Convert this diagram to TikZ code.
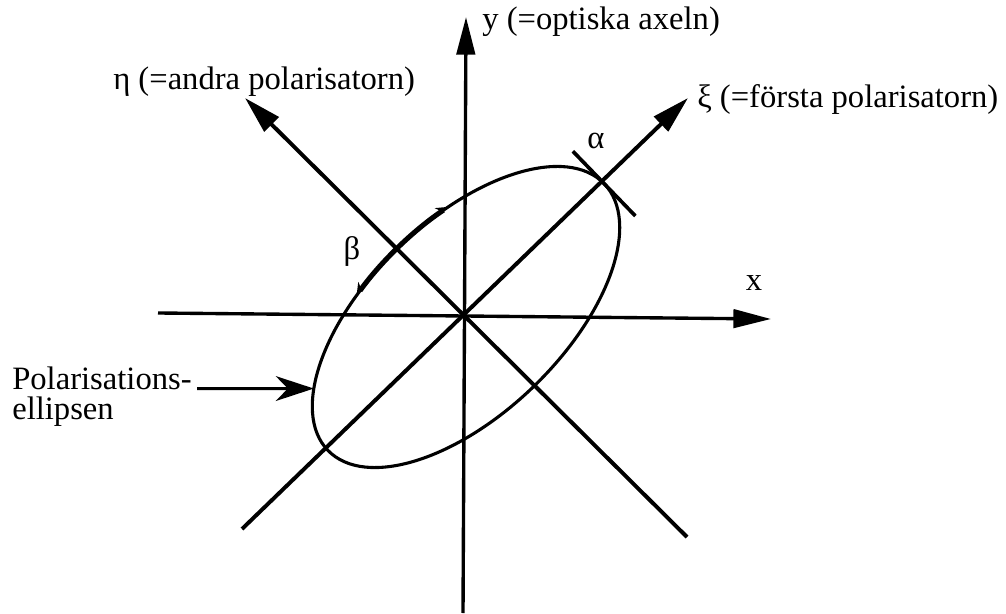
\documentclass[tikz,border=0pt]{standalone}
\usepackage{fontspec}
\setmainfont{Liberation Serif}
\usetikzlibrary{arrows.meta, positioning}

\begin{document}
\begin{tikzpicture}[
  font=\fontsize{23.2}{21.5}\selectfont,
  axis/.style={line width=2.4pt, -{Triangle[length=0.94cm, width=0.46cm]}},
  polar/.style={line width=2.8pt, -{Triangle[length=0.94cm, width=0.5cm]}},
  curve/.style={line width=2.2pt},
  lbl/.style={inner sep=0pt},
  pointer/.style={line width=2.2pt, -{Stealth[length=0.95cm, width=0.62cm, inset=0.3cm]}}
]
\useasboundingbox (0,0) rectangle (25.15,15.325);
\coordinate (O) at (11.65,7.40);
\coordinate (xstart) at (3.95,7.50);
\coordinate (xend) at (19.275,7.35);
\coordinate (ystart) at (11.575,0);
\coordinate (yend) at (11.65,14.9);
\coordinate (xistart) at (6.05,2.10);
\coordinate (xiend) at (17.2,12.875);
\coordinate (etastart) at (17.175,1.90);
\coordinate (etaend) at (6.125,12.875);
\draw[axis] (xstart) -- (xend);
\draw[axis] (ystart) -- (yend);
\draw[polar] (xistart) -- (xiend);
\draw[polar] (etastart) -- (etaend);
\begin{scope}[shift={(O)}, rotate=44]
  \draw[curve] (0,0) ellipse [x radius=4.8, y radius=2.425];
  \draw[line width=3.6pt, {Stealth[harpoon, length=0.3cm, width=0.32cm]}-{Stealth[harpoon, swap, length=0.3cm, width=0.32cm]}]
    (70:4.8 and 2.425) arc[start angle=70, end angle=110, x radius=4.8, y radius=2.425];
  \coordinate (tickA) at (4.8,1.125);
  \coordinate (tickB) at (4.8,-1.125);
  \coordinate (rim) at (146:4.8 and 2.425);
\end{scope}
\draw[line width=2.6pt] (tickA) -- (tickB);
\node[lbl, anchor=base west] (ylabel) at (12.05,14.575) {y (=optiska axeln)};
\node[lbl, anchor=base west] (etalabel) at (2.825,13.075) {η (=andra polarisatorn)};
\node[lbl, anchor=base west] (xilabel) at (17.425,12.625) {ξ (=första polarisatorn)};
\node[lbl] (xlabel) at (18.85,8.25) {x};
\node[lbl] (alphalabel) at (14.9,11.8) {α};
\node[lbl] (betalabel) at (8.8,9.05) {β};
\node[lbl, anchor=west, align=left] (ellipselabel) at (0.3,5.4) {Polarisations-\\ellipsen};
\coordinate (ptr) at (4.925,5.611);
\draw[pointer] (ptr) -- (rim);
\end{tikzpicture}
\end{document}
